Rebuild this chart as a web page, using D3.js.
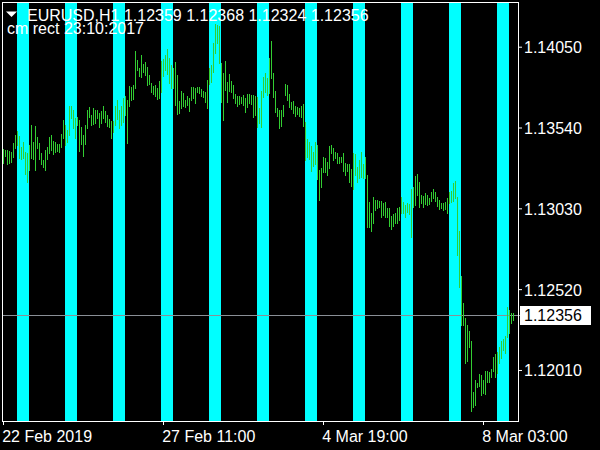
<!DOCTYPE html>
<html><head><meta charset="utf-8">
<script src="https://cdn.jsdelivr.net/npm/d3@7"></script>
<style>html,body{margin:0;padding:0;background:#000;overflow:hidden}text{font-family:"Liberation Sans",Arial,sans-serif;font-size:16px}</style>
</head><body><svg id="c" width="600" height="450"></svg>
<script>
const symbolTitle = "EURUSD,H1";
const lastOHLC = [1.12359, 1.12368, 1.12324, 1.12356];
const indicatorLabel = "cm rect 23:10:2017";
const barHigh = [
1.13405,1.13398,1.13398,1.13392,1.13386,1.13443,1.13493,1.13518,1.13487,1.13417,1.13449,1.13386,1.13380,1.13430,1.13556,1.13449,
1.13550,1.13481,1.13443,1.13380,1.13335,1.13398,1.13417,1.13481,1.13493,1.13455,1.13449,1.13436,1.13436,1.13499,1.13588,1.13556,
1.13525,1.13676,1.13676,1.13651,1.13600,1.13607,1.13588,1.13544,1.13493,1.13556,1.13651,1.13670,1.13619,1.13664,1.13651,1.13651,
1.13632,1.13645,1.13676,1.13645,1.13619,1.13594,1.13581,1.13581,1.13676,1.13714,1.13651,1.13676,1.13727,1.13739,1.13714,1.13802,
1.13796,1.13809,1.14023,1.13966,1.13916,1.13998,1.13941,1.13954,1.13922,1.13872,1.13821,1.13802,1.13809,1.13790,1.13834,1.13960,
1.13973,1.13998,1.14036,1.13979,1.13935,1.13916,1.13954,1.13872,1.13708,1.13771,1.13758,1.13714,1.13739,1.13727,1.13796,1.13796,
1.13790,1.13796,1.13796,1.13783,1.13771,1.13764,1.13840,1.13916,1.13935,1.14074,1.14194,1.14187,1.14181,1.13947,1.13884,1.13960,
1.13828,1.13878,1.13834,1.13809,1.13752,1.13739,1.13739,1.13733,1.13746,1.13727,1.13752,1.13752,1.13746,1.13746,1.13739,1.13733,
1.13664,1.13771,1.13859,1.13884,1.13853,1.13979,1.14086,1.13884,1.13771,1.13664,1.13651,1.13651,1.13682,1.13815,1.13809,1.13752,
1.13701,1.13708,1.13676,1.13670,1.13664,1.13676,1.13689,1.13575,1.13468,1.13449,1.13424,1.13386,1.13449,1.13430,1.13272,1.13285,
1.13354,1.13348,1.13323,1.13424,1.13430,1.13411,1.13386,1.13380,1.13354,1.13354,1.13380,1.13316,1.13310,1.13310,1.13279,1.13380,
1.13373,1.13291,1.13335,1.13386,1.13310,1.13354,1.13241,1.13070,1.13001,1.13102,1.13083,1.13083,1.13077,1.13077,1.13064,1.13070,
1.13033,1.13033,1.12982,1.12995,1.13001,1.13033,1.13039,1.13102,1.13070,1.13051,1.13064,1.13058,1.13152,1.13165,1.13234,1.13247,
1.13197,1.13115,1.13108,1.13127,1.13115,1.13096,1.13134,1.13152,1.13134,1.13102,1.13083,1.13064,1.13064,1.13070,1.13096,1.13134,
1.13140,1.13190,1.13203,1.13102,1.12887,1.12603,1.12433,1.12338,1.12294,1.12256,1.12193,1.11871,1.11947,1.11928,1.11985,1.11979,
1.11947,1.12004,1.12004,1.11998,1.12017,1.12092,1.12111,1.12124,1.12155,1.12193,1.12206,1.12225,1.12408,1.12389,1.12370,1.12368];
const barLow = [
1.13316,1.13361,1.13310,1.13316,1.13323,1.13354,1.13411,1.13430,1.13348,1.13342,1.13348,1.13247,1.13197,1.13272,1.13348,1.13342,
1.13272,1.13411,1.13342,1.13310,1.13291,1.13272,1.13342,1.13380,1.13398,1.13373,1.13386,1.13392,1.13386,1.13417,1.13474,1.13430,
1.13449,1.13493,1.13600,1.13537,1.13474,1.13556,1.13392,1.13436,1.13361,1.13436,1.13537,1.13607,1.13556,1.13563,1.13569,1.13600,
1.13544,1.13569,1.13600,1.13575,1.13550,1.13544,1.13474,1.13512,1.13556,1.13594,1.13537,1.13556,1.13575,1.13619,1.13443,1.13676,
1.13714,1.13720,1.13790,1.13903,1.13865,1.13859,1.13891,1.13872,1.13809,1.13815,1.13764,1.13752,1.13739,1.13720,1.13727,1.13764,
1.13865,1.13903,1.13878,1.13821,1.13790,1.13790,1.13682,1.13626,1.13632,1.13664,1.13676,1.13670,1.13682,1.13645,1.13714,1.13727,
1.13695,1.13764,1.13758,1.13739,1.13733,1.13701,1.13664,1.13815,1.13828,1.13891,1.14011,1.14074,1.13947,1.13701,1.13588,1.13777,
1.13701,1.13771,1.13764,1.13727,1.13695,1.13676,1.13689,1.13695,1.13682,1.13638,1.13670,1.13695,1.13689,1.13607,1.13619,1.13544,
1.13569,1.13544,1.13733,1.13764,1.13746,1.13758,1.13853,1.13733,1.13638,1.13613,1.13537,1.13550,1.13613,1.13746,1.13714,1.13670,
1.13657,1.13632,1.13613,1.13626,1.13613,1.13607,1.13550,1.13335,1.13354,1.13342,1.13266,1.13297,1.13310,1.13215,1.13083,1.13165,
1.13260,1.13260,1.13241,1.13285,1.13380,1.13335,1.13348,1.13316,1.13316,1.13323,1.13266,1.13241,1.13266,1.13197,1.13171,1.13152,
1.13241,1.13197,1.13222,1.13228,1.13222,1.13222,1.12913,1.12913,1.12887,1.12938,1.13020,1.13033,1.13039,1.12976,1.12988,1.12976,
1.12976,1.12919,1.12900,1.12919,1.12938,1.12938,1.12957,1.13001,1.13001,1.12976,1.13007,1.12995,1.12850,1.13039,1.13051,1.13115,
1.13039,1.13064,1.13039,1.13058,1.13051,1.13058,1.13077,1.13096,1.13077,1.13045,1.13026,1.13033,1.13020,1.13026,1.13001,1.13064,
1.13070,1.13077,1.13096,1.12736,1.12534,1.12294,1.12294,1.12054,1.12067,1.12155,1.11752,1.11777,1.11789,1.11903,1.11909,1.11852,
1.11865,1.11859,1.11935,1.11935,1.11966,1.12004,1.11966,1.11991,1.12054,1.12086,1.12137,1.12118,1.12219,1.12244,1.12307,1.12324];
const bandStartBars = [7, 31, 55, 79, 103, 127, 151, 175, 199, 223, 247];
const bandLengthBars = 6;
const priceTicks = [1.14050, 1.13540, 1.13030, 1.12520, 1.12010];
const timeTickBars = [0, 80, 160, 240];
const timeTickLabels = ["22 Feb 2019", "27 Feb 11:00", "4 Mar 19:00", "8 Mar 03:00"];
const currentPrice = 1.12356;

const svg = d3.select("#c");
svg.append("rect").attr("width", 600).attr("height", 450).attr("fill", "#000");

const x = d3.scaleLinear().domain([0, barHigh.length - 1]).range([3, 513]);
const y = d3.scaleLinear().domain([1.11688, 1.14332]).range([421, 2]);

// cyan bands
svg.append("g").selectAll("rect").data(bandStartBars).join("rect")
  .attr("x", d => x(d)).attr("width", d => x(d + bandLengthBars) - x(d))
  .attr("y", 3).attr("height", 418).attr("fill", "#00ffff");

// current price line
const yc = Math.round(y(currentPrice)) + 0.5;
svg.append("line").attr("x1", 3).attr("x2", 520).attr("y1", yc).attr("y2", yc)
  .attr("stroke", "#8a8f96").attr("stroke-width", 1);

// price bars (high-low)
svg.append("g").selectAll("rect").data(barHigh).join("rect")
  .attr("x", (d, i) => x(i)).attr("width", 1)
  .attr("y", d => Math.round(y(d)))
  .attr("height", (d, i) => Math.max(1, Math.round(y(barLow[i])) - Math.round(y(d)) + 1))
  .attr("fill", "#32cd32");

// frame
svg.append("rect").attr("x", 2.5).attr("y", 2.5).attr("width", 516).attr("height", 419)
  .attr("fill", "none").attr("stroke", "#fff").attr("stroke-width", 1);

// y axis
const yAxis = svg.append("g").attr("transform", "translate(518,0)")
  .call(d3.axisRight(y).tickValues(priceTicks).tickSize(4).tickPadding(2).tickFormat(d3.format(".5f")));
yAxis.select(".domain").remove();
yAxis.selectAll("line").attr("stroke", "#fff");
yAxis.selectAll("text").attr("fill", "#fff").attr("x", 6).attr("dy", "0.37em")
  .style("font-family", '"Liberation Sans",Arial,sans-serif').style("font-size", "16px");

// x axis
const xAxis = svg.append("g").attr("transform", "translate(0,421)")
  .call(d3.axisBottom(x).tickValues(timeTickBars).tickSize(4)
    .tickFormat((d, i) => timeTickLabels[i]));
xAxis.select(".domain").remove();
xAxis.selectAll("line").attr("stroke", "#fff");
xAxis.selectAll("text").attr("fill", "#fff").attr("text-anchor", "start")
  .attr("x", -1.3).attr("y", 9.6).attr("dy", "0.71em")
  .style("font-family", '"Liberation Sans",Arial,sans-serif').style("font-size", "16px");

// current price label
svg.append("rect").attr("x", 520).attr("y", yc - 9.5).attr("width", 71).attr("height", 19).attr("fill", "#fff");
svg.append("text").attr("x", 524).attr("y", yc).attr("dy", "0.37em").attr("fill", "#000")
  .text(d3.format(".5f")(currentPrice));

// header
svg.append("path").attr("d", "M6,11.5H17L11.5,17Z").attr("fill", "#fff");
svg.append("text").attr("x", 27).attr("y", 20.7).attr("fill", "#fff")
  .text(symbolTitle + " " + lastOHLC.map(d3.format(".5f")).join(" "));
svg.append("text").attr("x", 7).attr("y", 34.3).attr("fill", "#fff").text(indicatorLabel);
</script></body></html>
